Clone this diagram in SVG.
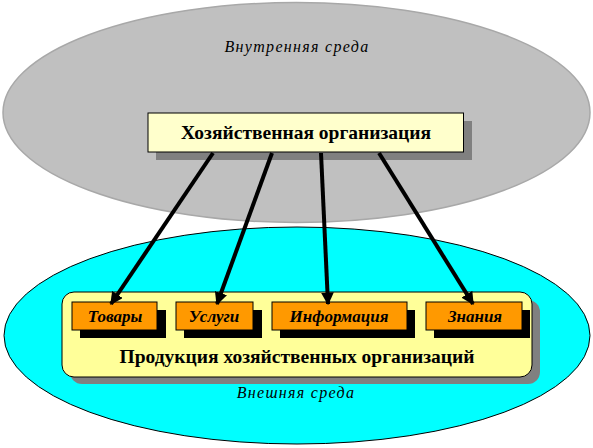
<svg xmlns="http://www.w3.org/2000/svg" width="593" height="448" viewBox="0 0 593 448">
<defs>
<marker id="ah" viewBox="0 0 10 10" refX="9" refY="5" markerWidth="3.2" markerHeight="3.2" orient="auto" markerUnits="strokeWidth">
<path d="M0,0 L10,5 L0,10 Z" fill="#000"/>
</marker>
</defs>
<style>
.b{font-weight:bold;font-size:19.5px}
.i{font-style:italic;font-size:16px;letter-spacing:1.3px}
.ib{font-style:italic;font-weight:bold;font-size:17px}
.o{fill:#ff9900;stroke:#000;stroke-width:1}
.sh{fill:#000}
.c{stroke:#000;stroke-width:4;fill:none;marker-end:url(#ah)}
</style>
<rect width="593" height="448" fill="#fff"/>
<g font-family="Liberation Serif, DejaVu Serif, serif" text-anchor="middle" fill="#000">
<g id="inner-env">
<ellipse cx="296.5" cy="112.5" rx="293.5" ry="110" fill="#c0c0c0" stroke="#a8a8a8" stroke-width="1.5"/>
<text class="i" x="297" y="52">Внутренняя среда</text>
</g>
<g id="outer-env">
<ellipse cx="297" cy="335.5" rx="293" ry="108.5" fill="#00ffff" stroke="#000" stroke-width="1"/>
<text class="i" x="296" y="398">Внешняя среда</text>
</g>
<g id="org">
<rect x="156" y="121" width="316" height="39" fill="#808080"/>
<rect x="148" y="113" width="315.5" height="39" fill="#ffffcc" stroke="#000" stroke-width="1"/>
<text class="b" x="306" y="139">Хозяйственная организация</text>
</g>
<g id="products">
<rect x="70" y="300" width="470" height="84" rx="12" fill="#808080"/>
<rect x="62" y="292" width="470" height="85" rx="12" fill="#ffff99" stroke="#000" stroke-width="1"/>
<text class="b" x="297" y="363">Продукция хозяйственных организаций</text>
</g>
<g id="tovary">
<rect class="sh" x="80" y="310" width="86" height="28"/>
<rect class="o" x="72" y="302" width="85" height="28"/>
<text class="ib" x="115" y="322">Товары</text>
</g>
<g id="uslugi">
<rect class="sh" x="184" y="310" width="78" height="28"/>
<rect class="o" x="176" y="302" width="77" height="28"/>
<text class="ib" x="214" y="322">Услуги</text>
</g>
<g id="informatsiya">
<rect class="sh" x="280" y="310" width="135" height="28"/>
<rect class="o" x="272" y="302" width="135" height="28"/>
<text class="ib" x="339" y="322">Информация</text>
</g>
<g id="znaniya">
<rect class="sh" x="434" y="310" width="96" height="28"/>
<rect class="o" x="426" y="302" width="96" height="28"/>
<text class="ib" x="475" y="322">Знания</text>
</g>
</g>
<g id="connectors">
<line class="c" x1="213" y1="153" x2="111" y2="304"/>
<line class="c" x1="272" y1="153" x2="217" y2="304"/>
<line class="c" x1="321" y1="153" x2="328" y2="304"/>
<line class="c" x1="379" y1="153" x2="473" y2="304"/>
</g>
</svg>
